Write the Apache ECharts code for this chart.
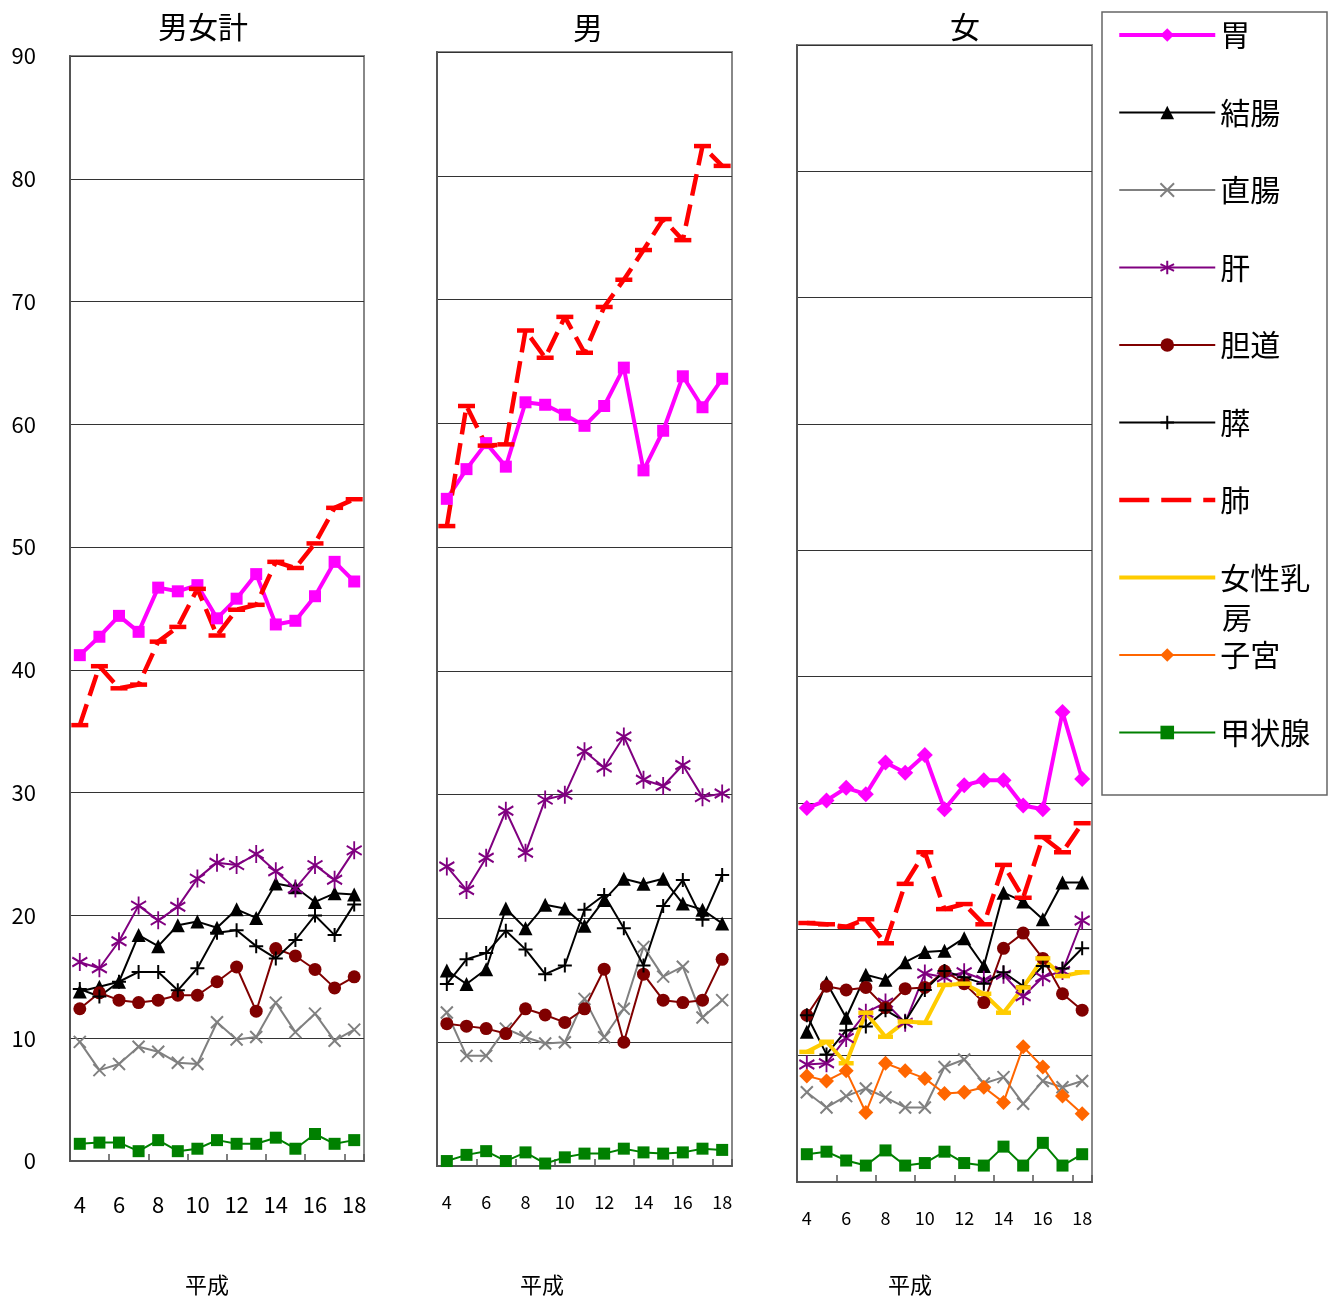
<!DOCTYPE html>
<html>
<head>
<meta charset="utf-8">
<script src="https://cdn.jsdelivr.net/npm/echarts@6/dist/echarts.min.js"></script>
<style>
html, body { margin: 0; padding: 0; background: #fff; }
#chart { width: 1333px; height: 1300px; }
</style>
</head>
<body>
<div id="chart"></div>
<script>
// 平成 years on the category axis
const years = ['4','5','6','7','8','9','10','11','12','13','14','15','16','17','18'];
const yTicks = [0, 10, 20, 30, 40, 50, 60, 70, 80, 90];

// 男女計
const stomachT  = [41.2, 42.7, 44.4, 43.1, 46.7, 46.4, 46.9, 44.2, 45.8, 47.8, 43.7, 44.0, 46.0, 48.8, 47.2];
const colonT    = [13.8, 14.2, 14.6, 18.4, 17.5, 19.2, 19.5, 19.0, 20.5, 19.8, 22.6, 22.3, 21.1, 21.8, 21.7];
const rectumT   = [9.7, 7.4, 7.9, 9.3, 8.9, 8.0, 7.9, 11.3, 9.9, 10.1, 12.9, 10.5, 12.0, 9.8, 10.7];
const liverT    = [16.2, 15.7, 17.9, 20.8, 19.6, 20.7, 23.0, 24.3, 24.1, 25.0, 23.6, 22.2, 24.1, 22.9, 25.3];
const biliaryT  = [12.4, 13.7, 13.1, 12.9, 13.1, 13.5, 13.5, 14.6, 15.8, 12.2, 17.3, 16.7, 15.6, 14.1, 15.0];
const pancreasT = [14.0, 13.4, 14.6, 15.4, 15.4, 13.9, 15.7, 18.6, 18.8, 17.5, 16.5, 18.0, 20.0, 18.4, 20.9];
const lungT     = [35.5, 40.3, 38.5, 38.8, 42.3, 43.5, 46.6, 42.8, 44.9, 45.3, 48.8, 48.3, 50.3, 53.2, 53.9];
const thyroidT  = [1.4, 1.5, 1.5, 0.8, 1.7, 0.8, 1.0, 1.7, 1.4, 1.4, 1.9, 1.0, 2.2, 1.4, 1.7];

// 男
const stomachM  = [53.9, 56.3, 58.4, 56.5, 61.7, 61.5, 60.7, 59.8, 61.4, 64.5, 56.2, 59.4, 63.8, 61.3, 63.6];
const colonM    = [15.8, 14.7, 15.9, 20.8, 19.2, 21.1, 20.8, 19.4, 21.5, 23.2, 22.8, 23.2, 21.2, 20.7, 19.6];
const rectumM   = [12.4, 8.9, 8.9, 11.1, 10.4, 9.9, 10.0, 13.5, 10.4, 12.7, 17.7, 15.3, 16.1, 12.0, 13.4];
const liverM    = [24.2, 22.3, 24.9, 28.7, 25.3, 29.6, 30.0, 33.5, 32.2, 34.7, 31.2, 30.7, 32.4, 29.8, 30.1];
const biliaryM  = [11.5, 11.3, 11.1, 10.7, 12.7, 12.2, 11.6, 12.7, 15.9, 10.0, 15.5, 13.4, 13.2, 13.4, 16.7];
const pancreasM = [14.7, 16.7, 17.2, 19.0, 17.5, 15.5, 16.2, 20.7, 21.9, 19.2, 16.2, 21.0, 23.1, 19.9, 23.5];
const lungM     = [51.7, 61.4, 58.2, 58.3, 67.5, 65.3, 68.6, 65.7, 69.4, 71.6, 74.0, 76.5, 74.8, 82.4, 80.8];
const thyroidM  = [0.4, 0.9, 1.2, 0.4, 1.1, 0.2, 0.7, 1.0, 1.0, 1.4, 1.1, 1.0, 1.1, 1.4, 1.3];

// 女
const stomachF  = [29.6, 30.2, 31.2, 30.7, 33.2, 32.4, 33.8, 29.5, 31.4, 31.8, 31.8, 29.8, 29.5, 37.2, 31.9];
const colonF    = [11.9, 15.8, 13.0, 16.4, 16.0, 17.4, 18.2, 18.3, 19.3, 17.1, 22.9, 22.2, 20.8, 23.7, 23.7];
const rectumF   = [7.1, 5.9, 6.8, 7.4, 6.7, 5.9, 5.9, 9.1, 9.7, 7.8, 8.3, 6.2, 8.0, 7.5, 8.0];
const liverF    = [9.3, 9.4, 11.4, 13.4, 14.2, 12.6, 16.5, 16.2, 16.6, 16.0, 16.4, 14.7, 16.2, 16.7, 20.7];
const biliaryF  = [13.2, 15.5, 15.2, 15.4, 13.8, 15.3, 15.4, 16.7, 15.7, 14.2, 18.5, 19.7, 17.7, 14.9, 13.6];
const pancreasF = [13.2, 10.1, 12.0, 12.3, 13.6, 12.7, 15.2, 16.7, 16.2, 15.7, 16.6, 15.5, 17.1, 16.9, 18.5];
const lungF     = [20.5, 20.4, 20.2, 20.8, 18.9, 23.6, 26.1, 21.6, 22.0, 20.4, 25.1, 22.5, 27.3, 26.1, 28.4];
const breastF   = [10.3, 11.1, 9.4, 13.4, 11.5, 12.7, 12.6, 15.6, 15.7, 14.9, 13.4, 15.4, 17.7, 16.3, 16.6];
const uterusF   = [8.4, 8.0, 8.8, 5.5, 9.4, 8.8, 8.2, 7.0, 7.1, 7.5, 6.3, 10.7, 9.1, 6.8, 5.4];
const thyroidF  = [2.2, 2.4, 1.7, 1.3, 2.5, 1.3, 1.5, 2.4, 1.5, 1.3, 2.8, 1.3, 3.1, 1.3, 2.2];

const siteNames = ['胃', '結腸', '直腸', '肝', '胆道', '膵', '肺', '女性乳房', '子宮', '甲状腺'];
// legend entries drawn as a plain line, without the marker in the middle
const plainLegendSites = ['肺', '女性乳房'];

const FONT = '"Noto Sans CJK JP", "Noto Sans", sans-serif';

// stroke-only marker shapes
const SYM_X    = 'path://M0,0 L10,10 M0,10 L10,0';
const SYM_PLUS = 'path://M5,0 L5,10 M0,5 L10,5';
const SYM_AST  = 'path://M5,0 L5,12 M0,3 L10,9 M0,9 L10,3';

function look(color, width, symbol, size, stroke, dash) {
  return {
    symbol: symbol,
    symbolSize: size,
    lineStyle: { color: color, width: width, type: dash || 'solid' },
    itemStyle: { color: color, borderColor: color, borderWidth: stroke ? 2 : 0 }
  };
}

const looks = {
  '胃':      look('#FF00FF', 4, 'rect', 12),
  '胃F':     look('#FF00FF', 4, 'diamond', 16),
  '結腸':    look('#000000', 2, 'triangle', 14),
  '直腸':    look('#808080', 2, SYM_X, 12, true),
  '肝':      look('#800080', 2, SYM_AST, [15, 18], true),
  '胆道':    look('#800000', 2, 'circle', 13),
  '膵':      look('#000000', 2, SYM_PLUS, 14, true),
  '肺':      look('#FF0000', 4.5, 'rect', [17, 4.5], false, [22, 9]),
  '女性乳房': look('#FFCC00', 4, 'rect', [15, 4.5]),
  '子宮':    look('#FF6600', 2, 'diamond', 15),
  '甲状腺':  look('#008000', 2, 'rect', 12)
};

function line(name, panel, data, key) {
  return Object.assign({
    name: name,
    type: 'line',
    xAxisIndex: panel,
    yAxisIndex: panel,
    data: data,
    showAllSymbol: true,
    animation: false,
    emphasis: { disabled: true }
  }, looks[key || name]);
}

// panel 0 = 男女計, 1 = 男, 2 = 女
const series = [
  line('胃', 2, stomachF, '胃F'),
  line('結腸', 2, colonF),
  line('直腸', 2, rectumF),
  line('肝', 2, liverF),
  line('胆道', 2, biliaryF),
  line('膵', 2, pancreasF),
  line('肺', 2, lungF),
  line('女性乳房', 2, breastF),
  line('子宮', 2, uterusF),
  line('甲状腺', 2, thyroidF),

  line('胃', 0, stomachT),
  line('結腸', 0, colonT),
  line('直腸', 0, rectumT),
  line('肝', 0, liverT),
  line('胆道', 0, biliaryT),
  line('膵', 0, pancreasT),
  line('肺', 0, lungT),
  line('甲状腺', 0, thyroidT),

  line('胃', 1, stomachM),
  line('結腸', 1, colonM),
  line('直腸', 1, rectumM),
  line('肝', 1, liverM),
  line('胆道', 1, biliaryM),
  line('膵', 1, pancreasM),
  line('肺', 1, lungM),
  line('甲状腺', 1, thyroidM)
];

const grids = [
  { left: 70,  top: 56, width: 294, height: 1105 },
  { left: 437, top: 52, width: 295, height: 1114 },
  { left: 797, top: 45, width: 295, height: 1137 }
];

const xAxes = grids.map((g, i) => ({
  type: 'category',
  gridIndex: i,
  data: years,
  boundaryGap: true,
  axisLine: { lineStyle: { color: '#555', width: 2 } },
  axisTick: { show: true, inside: true, length: 7, interval: 1, lineStyle: { color: '#555', width: 1.5 } },
  axisLabel: {
    interval: 1,
    color: '#000',
    fontFamily: FONT,
    fontSize: i === 0 ? 22 : 18,
    margin: i === 0 ? 33 : 27
  }
}));

const yAxes = grids.map((g, i) => ({
  type: 'value',
  gridIndex: i,
  min: yTicks[0],
  max: yTicks[yTicks.length - 1],
  interval: 10,
  axisLine: { show: true, lineStyle: { color: '#555', width: 2 } },
  axisTick: { show: false },
  splitLine: { show: true, lineStyle: { color: '#333', width: 1 } },
  axisLabel: {
    show: i === 0,
    color: '#000',
    fontFamily: FONT,
    fontSize: 22,
    margin: 34
  }
}));

function label(text, x, y, size) {
  return {
    type: 'text', x: x, y: y,
    style: { text: text, font: size + 'px ' + FONT, fill: '#000', align: 'center', verticalAlign: 'middle' }
  };
}

// legend entries repeat each site's line width; the dashed 肺 sample uses longer dashes
const legendData = siteNames.map(n => {
  const ls = looks[n].lineStyle;
  const item = { name: n, lineStyle: { width: ls.width, type: n === '肺' ? [30, 12] : ls.type } };
  if (plainLegendSites.indexOf(n) >= 0) {
    item.itemStyle = { color: 'rgba(0,0,0,0)', borderWidth: 0 };
  }
  return item;
});

const chart = echarts.init(document.getElementById('chart'));
chart.setOption({
  backgroundColor: '#fff',
  animation: false,
  grid: grids.map(g => Object.assign({ show: true, borderColor: '#888', borderWidth: 2, containLabel: false }, g)),
  xAxis: xAxes,
  yAxis: yAxes,
  legend: {
    orient: 'vertical',
    left: 1117,
    top: 18,
    padding: 0,
    itemWidth: 96,
    itemHeight: 17,
    itemGap: 43.5,
    selectedMode: false,
    data: legendData,
    formatter: n => (n === '女性乳房' ? '女性乳' : n),
    textStyle: { fontSize: 30, fontFamily: FONT, color: '#000', lineHeight: 34 }
  },
  graphic: [
    { type: 'rect', x: 1102, y: 12, shape: { width: 225, height: 783 },
      style: { fill: 'none', stroke: '#666', lineWidth: 1.5 }, silent: true },
    label('房', 1237, 618, 30),
    label('男女計', 203, 27, 30),
    label('男', 588, 28, 30),
    label('女', 965, 27, 30),
    label('平成', 207, 1285, 22),
    label('平成', 542, 1285, 22),
    label('平成', 910, 1285, 22)
  ],
  series: series
});
</script>
</body>
</html>
